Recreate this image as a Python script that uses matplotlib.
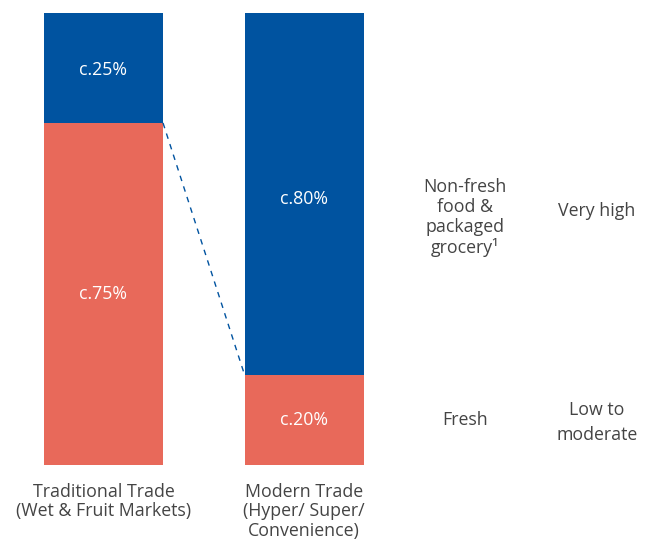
import numpy as np
import matplotlib.pyplot as plt

plt.rcParams['font.family'] = ['Open Sans', 'DejaVu Sans']

categories = ['Traditional Trade\n(Wet & Fruit Markets)', 'Modern Trade\n(Hyper/ Super/\nConvenience)']
fresh = [75.7, 20]
non_fresh = [24.3, 80]
fresh_labels = ['c.75%', 'c.20%']
non_fresh_labels = ['c.25%', 'c.80%']
segment_names = ['Non-fresh\nfood &\npackaged\ngrocery\u00b9', 'Fresh']
segment_levels = ['Very high', 'Low to\nmoderate']

BLUE = '#0053A0'
RED = '#E8695A'
TEXT = '#444444'
FS = 12.8

fig = plt.figure(figsize=(6.63, 5.40), dpi=100)
ax = fig.add_axes([0, 0, 1, 1])
# pixel-like x axis, percent y axis
ax.set_xlim(0, 663)
ax.set_ylim(-16.6, 102.9)
ax.axis('off')

x = np.array([103.5, 304.0])
w = 119
ax.bar(x, fresh, width=w, color=RED)
ax.bar(x, non_fresh, width=w, bottom=fresh, color=BLUE)

label_shift = [-0.5, -1.1]
for i in range(2):
    ax.text(x[i], fresh[i] / 2, fresh_labels[i], color='white', ha='center', va='center', fontsize=FS)
    ax.text(x[i], fresh[i] + non_fresh[i] / 2 + label_shift[i], non_fresh_labels[i], color='white',
            ha='center', va='center', fontsize=FS)
    ax.text(x[i], -3.9, categories[i], color=TEXT, ha='center', va='top', fontsize=FS, linespacing=1.12)

# dashed connector from top of fresh in bar 1 to top of fresh in bar 2
ax.plot([x[0] + w / 2, x[1] - w / 2], [fresh[0], fresh[1]], color=BLUE, ls=(0, (4, 4)), lw=1)

# right-hand annotations
ax.text(465, 54.8, segment_names[0], color=TEXT, ha='center', va='center', fontsize=FS, linespacing=1.15)
ax.text(597, 56.3, segment_levels[0], color=TEXT, ha='center', va='center', fontsize=FS)
ax.text(465, 10.0, segment_names[1], color=TEXT, ha='center', va='center', fontsize=FS)
ax.text(597, 9.4, segment_levels[1], color=TEXT, ha='center', va='center', fontsize=FS, linespacing=1.5)

fig.savefig('out.png', dpi=100)
